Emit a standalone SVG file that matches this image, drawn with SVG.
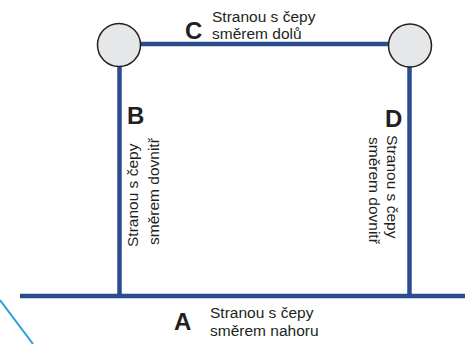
<svg xmlns="http://www.w3.org/2000/svg" width="465" height="344" viewBox="0 0 465 344">
<style>
.ln{stroke:#2b4d8e;stroke-width:4.5;fill:none}
.nd{fill:#e6e7e9;stroke:#231f20;stroke-width:1.5}
.lbl{font-family:"Liberation Sans",Arial,sans-serif;font-size:15.5px;fill:#231f20}
.big{font-family:"Liberation Sans",Arial,sans-serif;font-size:24px;font-weight:bold;fill:#231f20}
</style>
<rect width="465" height="344" fill="#ffffff"/>
<g id="connectors">
<line class="ln" x1="20" y1="296" x2="465" y2="296"/>
<line class="ln" x1="119.5" y1="60" x2="119.5" y2="296"/>
<line class="ln" x1="409.5" y1="60" x2="409.5" y2="296"/>
<line class="ln" x1="130" y1="44" x2="400" y2="44"/>
<line x1="0" y1="300" x2="33" y2="344" stroke="#2ba3d9" stroke-width="2"/>
</g>
<g id="node-left"><circle class="nd" cx="119" cy="45" r="21.5"/></g>
<g id="node-right"><circle class="nd" cx="410" cy="45.5" r="21.5"/></g>
<g id="label-C">
<text class="big" x="185" y="39">C</text>
<text class="lbl" x="212" y="22">Stranou s čepy</text>
<text class="lbl" x="212" y="39">směrem dolů</text>
</g>
<g id="label-B">
<text class="big" x="127" y="124">B</text>
<text class="lbl" transform="translate(138,247) rotate(-90)" x="0" y="0">Stranou s čepy</text>
<text class="lbl" transform="translate(159,245) rotate(-90)" x="0" y="0">směrem dovnitř</text>
</g>
<g id="label-D">
<text class="big" x="385" y="127">D</text>
<text class="lbl" transform="translate(387,135) rotate(90)" x="0" y="0">Stranou s čepy</text>
<text class="lbl" transform="translate(369,137) rotate(90)" x="0" y="0">směrem dovnitř</text>
</g>
<g id="label-A">
<text class="big" x="174" y="330">A</text>
<text class="lbl" x="210" y="318">Stranou s čepy</text>
<text class="lbl" x="210" y="336">směrem nahoru</text>
</g>
</svg>
